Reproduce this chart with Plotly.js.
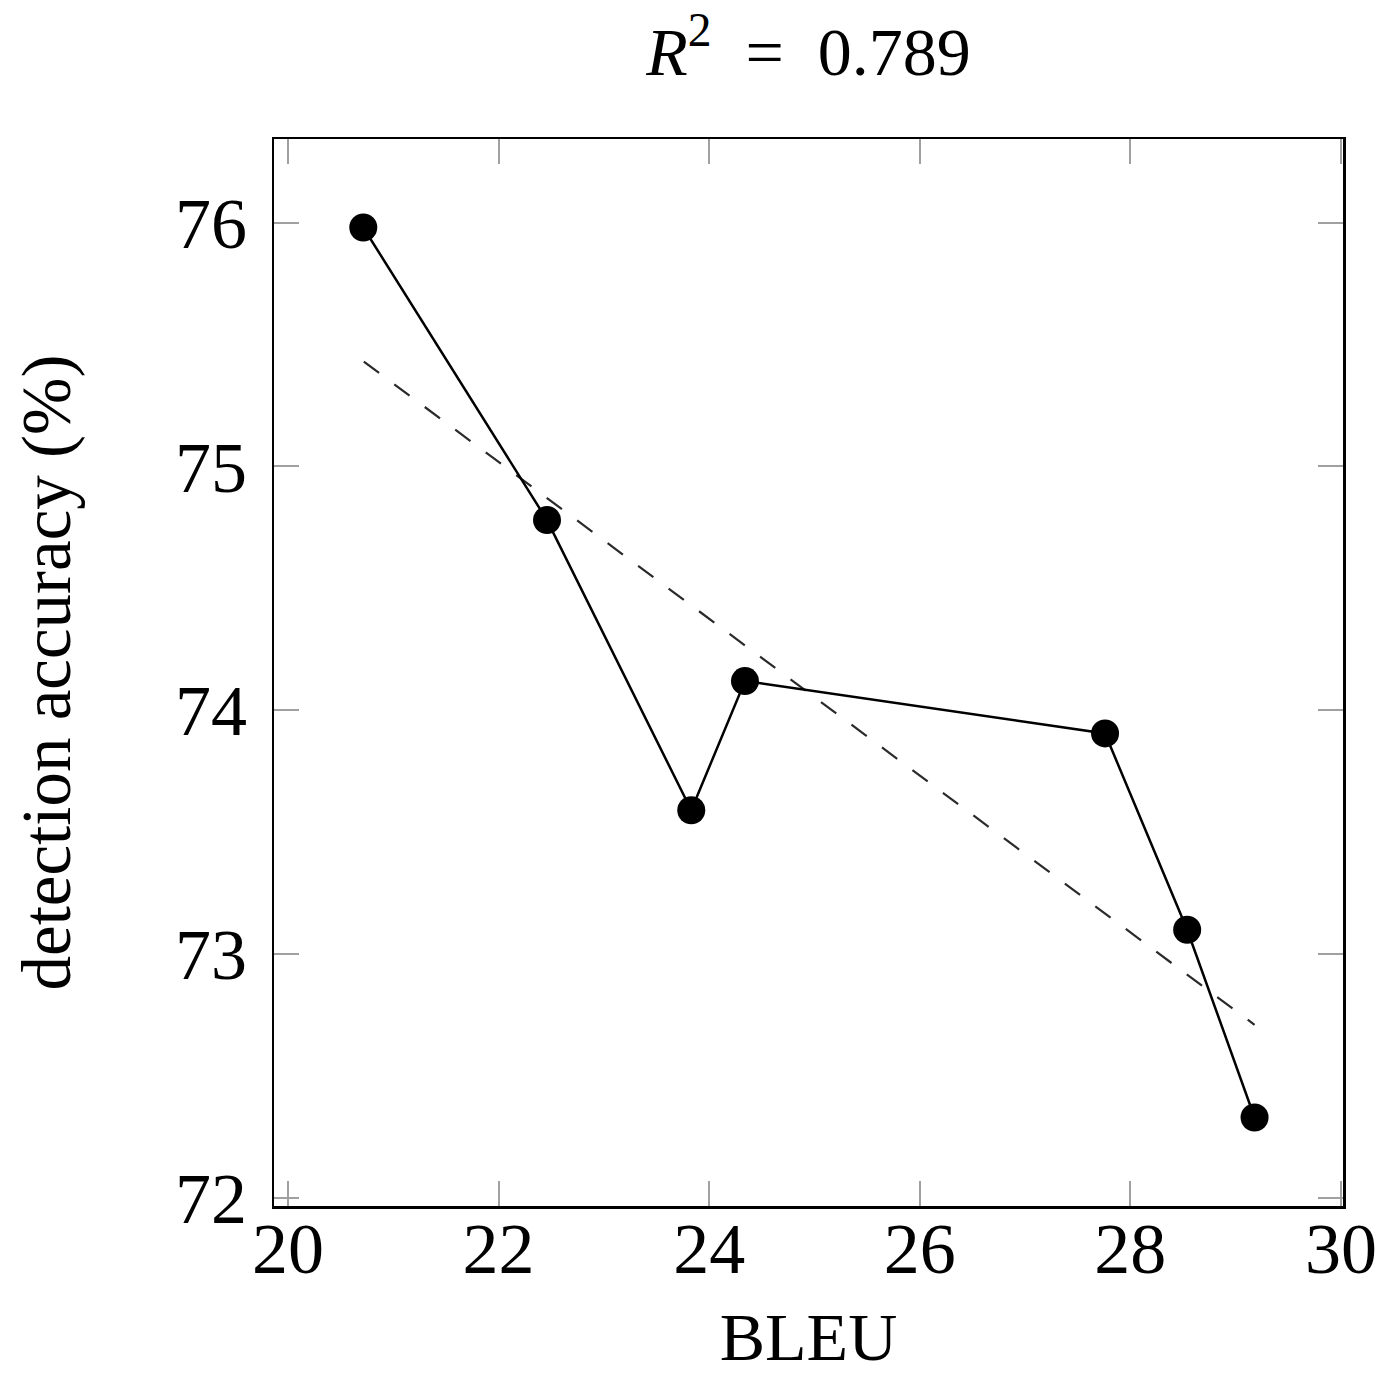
<!DOCTYPE html>
<html>
<head>
<meta charset="utf-8">
<script src="https://cdn.plot.ly/plotly-3.0.1.min.js"></script>
<style>html,body{margin:0;padding:0;background:#fff;}</style>
</head>
<body>
<div id="chart" style="width:1379px;height:1375px;"></div>
<script>
// Data
const bleu = [20.715, 22.46, 23.83, 24.34, 27.76, 28.54, 29.18];
const accuracy = [75.98, 74.78, 73.59, 74.12, 73.905, 73.10, 72.33];
// Trend (regression) line end points
const trendX = [20.72, 29.18];
const trendY = [75.43, 72.71];
const xTicks = [20, 22, 24, 26, 28, 30];
const yTicks = [72, 73, 74, 75, 76];

const FONT = 'Liberation Serif, Times New Roman, serif';

const traces = [
  {
    x: trendX, y: trendY, type: 'scatter', mode: 'lines',
    line: {color: '#2a2a2a', width: 2.2, dash: '19px,19px'},
    hoverinfo: 'skip', showlegend: false
  },
  {
    x: bleu, y: accuracy, type: 'scatter', mode: 'lines+markers',
    line: {color: '#000000', width: 2.5},
    marker: {color: '#000000', size: 28, symbol: 'circle'},
    showlegend: false
  }
];

const layout = {
  width: 1379, height: 1375,
  paper_bgcolor: '#ffffff', plot_bgcolor: '#ffffff',
  margin: {l: 274, r: 36, t: 139, b: 169, pad: 0},
  font: {family: FONT, color: '#000000'},
  title: {
    text: '<i>R</i><sup>2</sup>  =  0.789',
    font: {family: FONT, size: 68, color: '#000000'},
    x: 0.5, xref: 'paper', xanchor: 'center',
    y: 0.963, yref: 'container', yanchor: 'middle'
  },
  xaxis: {
    range: [19.867, 30.02],
    tickvals: xTicks, ticktext: xTicks.map(String),
    ticks: 'inside', ticklen: 25, tickwidth: 2, tickcolor: '#a0a0a0',
    showline: true, linecolor: '#000000', linewidth: 2.5, mirror: 'allticks',
    showgrid: false, zeroline: false,
    tickfont: {family: FONT, size: 72, color: '#000000'},
    ticklabelstandoff: -22,
    title: {text: 'BLEU', font: {family: FONT, size: 68, color: '#000000'}, standoff: 70}
  },
  yaxis: {
    range: [71.967, 76.343],
    tickvals: yTicks, ticktext: yTicks.map(String),
    ticks: 'inside', ticklen: 25, tickwidth: 2, tickcolor: '#a0a0a0',
    showline: true, linecolor: '#000000', linewidth: 2.5, mirror: 'allticks',
    showgrid: false, zeroline: false,
    tickfont: {family: FONT, size: 72, color: '#000000'},
    ticklabelstandoff: 10,
    title: {text: 'detection accuracy (%)', font: {family: FONT, size: 69, color: '#000000'}, standoff: 82}
  }
};

Plotly.newPlot('chart', traces, layout, {displayModeBar: false, staticPlot: true});
</script>
</body>
</html>
